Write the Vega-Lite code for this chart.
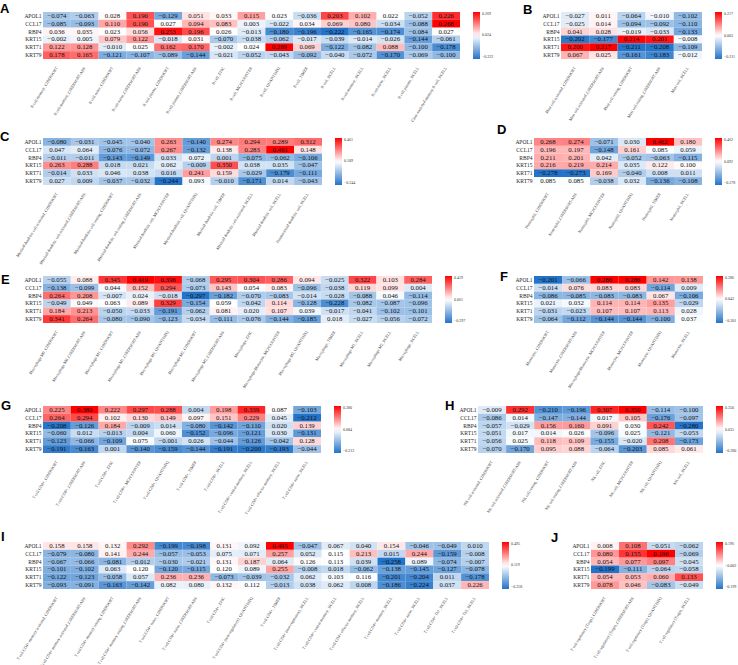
{
"$schema": "https://vega.github.io/schema/vega-lite/v6.json",
"padding": {"left": 0, "top": 2, "right": 0, "bottom": 2},
"background": "white",
"datasets": {
"A": [
{"c":"B cell memory_CIBERSORT","APOL1":-0.074,"CCL17":-0.085,"RBP4":0.036,"KRT15":-0.002,"KRT71":0.122,"KRT79":0.178},
{"c":"B cell memory_CIBERSORT-ABS","APOL1":-0.063,"CCL17":-0.093,"RBP4":0.035,"KRT15":0.005,"KRT71":0.128,"KRT79":0.165},
{"c":"B cell naive_CIBERSORT","APOL1":0.028,"CCL17":0.110,"RBP4":0.023,"KRT15":0.079,"KRT71":-0.010,"KRT79":-0.121},
{"c":"B cell naive_CIBERSORT-ABS","APOL1":0.190,"CCL17":0.190,"RBP4":0.056,"KRT15":0.122,"KRT71":0.025,"KRT79":-0.107},
{"c":"B cell plasma_CIBERSORT","APOL1":-0.129,"CCL17":0.027,"RBP4":0.253,"KRT15":-0.018,"KRT71":0.162,"KRT79":-0.089},
{"c":"B cell plasma_CIBERSORT-ABS","APOL1":0.051,"CCL17":0.094,"RBP4":0.196,"KRT15":0.031,"KRT71":0.170,"KRT79":-0.144},
{"c":"B cell_EPIC","APOL1":0.033,"CCL17":0.083,"RBP4":0.026,"KRT15":-0.070,"KRT71":-0.002,"KRT79":-0.021},
{"c":"B cell_MCPCOUNTER","APOL1":0.115,"CCL17":0.003,"RBP4":-0.013,"KRT15":-0.038,"KRT71":0.024,"KRT79":-0.052},
{"c":"B cell_QUANTISEQ","APOL1":0.023,"CCL17":-0.022,"RBP4":-0.180,"KRT15":-0.062,"KRT71":0.269,"KRT79":-0.043},
{"c":"B cell_TIMER","APOL1":-0.036,"CCL17":0.034,"RBP4":-0.196,"KRT15":-0.017,"KRT71":0.069,"KRT79":-0.092},
{"c":"B cell_XCELL","APOL1":0.203,"CCL17":0.069,"RBP4":-0.222,"KRT15":-0.039,"KRT71":-0.122,"KRT79":-0.040},
{"c":"B cell memory_XCELL","APOL1":0.102,"CCL17":0.080,"RBP4":-0.165,"KRT15":-0.014,"KRT71":-0.082,"KRT79":-0.072},
{"c":"B cell naive_XCELL","APOL1":0.022,"CCL17":-0.034,"RBP4":-0.174,"KRT15":-0.026,"KRT71":0.088,"KRT79":-0.170},
{"c":"B cell plasma_XCELL","APOL1":-0.052,"CCL17":-0.088,"RBP4":-0.084,"KRT15":-0.144,"KRT71":-0.100,"KRT79":-0.069},
{"c":"Class-switched memory B cell_XCELL","APOL1":0.226,"CCL17":0.268,"RBP4":0.027,"KRT15":-0.061,"KRT71":-0.178,"KRT79":-0.100}
],
"B": [
{"c":"Mast cell activated_CIBERSORT","APOL1":-0.027,"CCL17":-0.025,"RBP4":0.041,"KRT15":-0.202,"KRT71":0.200,"KRT79":0.067},
{"c":"Mast cell activated_CIBERSORT-ABS","APOL1":0.011,"CCL17":0.014,"RBP4":0.028,"KRT15":-0.177,"KRT71":0.217,"KRT79":0.025},
{"c":"Mast cell resting_CIBERSORT","APOL1":-0.064,"CCL17":-0.094,"RBP4":-0.019,"KRT15":0.214,"KRT71":-0.211,"KRT79":-0.161},
{"c":"Mast cell resting_CIBERSORT-ABS","APOL1":-0.010,"CCL17":-0.092,"RBP4":-0.033,"KRT15":0.201,"KRT71":-0.208,"KRT79":-0.183},
{"c":"Mast cell_XCELL","APOL1":-0.102,"CCL17":-0.110,"RBP4":-0.133,"KRT15":-0.008,"KRT71":-0.109,"KRT79":-0.012}
],
"C": [
{"c":"Myeloid dendritic cell activated_CIBERSORT","APOL1":-0.080,"CCL17":0.047,"RBP4":-0.011,"KRT15":0.263,"KRT71":-0.014,"KRT79":0.027},
{"c":"Myeloid dendritic cell activated_CIBERSORT-ABS","APOL1":-0.031,"CCL17":0.064,"RBP4":-0.011,"KRT15":0.288,"KRT71":0.033,"KRT79":0.009},
{"c":"Myeloid dendritic cell resting_CIBERSORT","APOL1":-0.045,"CCL17":-0.076,"RBP4":-0.143,"KRT15":0.018,"KRT71":0.046,"KRT79":-0.037},
{"c":"Myeloid dendritic cell resting_CIBERSORT-ABS","APOL1":-0.040,"CCL17":-0.072,"RBP4":-0.149,"KRT15":0.021,"KRT71":0.038,"KRT79":-0.032},
{"c":"Myeloid dendritic cell_MCPCOUNTER","APOL1":0.263,"CCL17":0.267,"RBP4":0.033,"KRT15":0.062,"KRT71":0.016,"KRT79":-0.244},
{"c":"Myeloid dendritic cell_QUANTISEQ","APOL1":-0.140,"CCL17":-0.132,"RBP4":0.072,"KRT15":-0.009,"KRT71":0.241,"KRT79":0.093},
{"c":"Myeloid dendritic cell_TIMER","APOL1":0.274,"CCL17":0.138,"RBP4":0.001,"KRT15":0.350,"KRT71":0.159,"KRT79":-0.010},
{"c":"Myeloid dendritic cell activated_XCELL","APOL1":0.294,"CCL17":0.283,"RBP4":-0.075,"KRT15":0.038,"KRT71":-0.029,"KRT79":-0.171},
{"c":"Myeloid dendritic cell_XCELL","APOL1":0.289,"CCL17":0.461,"RBP4":-0.062,"KRT15":0.035,"KRT71":-0.179,"KRT79":0.014},
{"c":"Plasmacytoid dendritic cell_XCELL","APOL1":0.312,"CCL17":0.148,"RBP4":-0.106,"KRT15":-0.047,"KRT71":-0.111,"KRT79":-0.043}
],
"D": [
{"c":"Neutrophil_CIBERSORT","APOL1":0.268,"CCL17":0.196,"RBP4":0.211,"KRT15":0.216,"KRT71":-0.278,"KRT79":0.085},
{"c":"Neutrophil_CIBERSORT-ABS","APOL1":0.274,"CCL17":0.197,"RBP4":0.201,"KRT15":0.219,"KRT71":-0.273,"KRT79":0.085},
{"c":"Neutrophil_MCPCOUNTER","APOL1":-0.071,"CCL17":-0.148,"RBP4":0.042,"KRT15":0.214,"KRT71":0.169,"KRT79":-0.038},
{"c":"Neutrophil_QUANTISEQ","APOL1":0.030,"CCL17":0.161,"RBP4":-0.052,"KRT15":0.035,"KRT71":-0.040,"KRT79":0.032},
{"c":"Neutrophil_TIMER","APOL1":0.462,"CCL17":0.085,"RBP4":-0.063,"KRT15":0.122,"KRT71":0.008,"KRT79":-0.136},
{"c":"Neutrophil_XCELL","APOL1":0.180,"CCL17":0.059,"RBP4":-0.115,"KRT15":0.100,"KRT71":0.011,"KRT79":-0.108}
],
"E": [
{"c":"Macrophage M0_CIBERSORT","APOL1":-0.055,"CCL17":-0.138,"RBP4":0.264,"KRT15":-0.049,"KRT71":0.184,"KRT79":0.341},
{"c":"Macrophage M0_CIBERSORT-ABS","APOL1":0.088,"CCL17":-0.099,"RBP4":0.208,"KRT15":0.049,"KRT71":0.213,"KRT79":0.264},
{"c":"Macrophage M1_CIBERSORT","APOL1":0.345,"CCL17":0.044,"RBP4":-0.007,"KRT15":0.063,"KRT71":-0.050,"KRT79":-0.080},
{"c":"Macrophage M1_CIBERSORT-ABS","APOL1":0.419,"CCL17":0.152,"RBP4":0.024,"KRT15":0.089,"KRT71":-0.033,"KRT79":-0.090},
{"c":"Macrophage M1_QUANTISEQ","APOL1":0.396,"CCL17":0.294,"RBP4":-0.018,"KRT15":0.329,"KRT71":-0.191,"KRT79":-0.123},
{"c":"Macrophage M2_CIBERSORT","APOL1":-0.068,"CCL17":-0.073,"RBP4":-0.297,"KRT15":-0.154,"KRT71":-0.062,"KRT79":-0.034},
{"c":"Macrophage M2_CIBERSORT-ABS","APOL1":0.295,"CCL17":0.143,"RBP4":-0.182,"KRT15":0.059,"KRT71":0.081,"KRT79":-0.111},
{"c":"Macrophage_EPIC","APOL1":0.304,"CCL17":0.054,"RBP4":-0.070,"KRT15":-0.042,"KRT71":0.020,"KRT79":-0.076},
{"c":"Macrophage/Monocyte_MCPCOUNTER","APOL1":0.286,"CCL17":0.083,"RBP4":-0.083,"KRT15":0.114,"KRT71":0.107,"KRT79":-0.144},
{"c":"Macrophage M2_QUANTISEQ","APOL1":0.094,"CCL17":-0.096,"RBP4":-0.014,"KRT15":-0.128,"KRT71":0.039,"KRT79":-0.185},
{"c":"Macrophage_TIMER","APOL1":-0.025,"CCL17":-0.038,"RBP4":-0.028,"KRT15":-0.228,"KRT71":-0.017,"KRT79":0.018},
{"c":"Macrophage M1_XCELL","APOL1":0.322,"CCL17":0.119,"RBP4":-0.088,"KRT15":-0.082,"KRT71":-0.041,"KRT79":-0.027},
{"c":"Macrophage M2_XCELL","APOL1":0.103,"CCL17":0.099,"RBP4":0.046,"KRT15":-0.087,"KRT71":-0.102,"KRT79":-0.056},
{"c":"Macrophage_XCELL","APOL1":0.284,"CCL17":0.004,"RBP4":-0.114,"KRT15":-0.096,"KRT71":-0.101,"KRT79":-0.072}
],
"F": [
{"c":"Monocyte_CIBERSORT","APOL1":-0.201,"CCL17":-0.014,"RBP4":-0.086,"KRT15":0.021,"KRT71":-0.031,"KRT79":-0.064},
{"c":"Monocyte_CIBERSORT-ABS","APOL1":-0.066,"CCL17":0.076,"RBP4":-0.085,"KRT15":0.032,"KRT71":-0.023,"KRT79":-0.112},
{"c":"Macrophage/Monocyte_MCPCOUNTER","APOL1":0.286,"CCL17":0.083,"RBP4":-0.083,"KRT15":0.114,"KRT71":0.107,"KRT79":-0.144},
{"c":"Monocyte_MCPCOUNTER","APOL1":0.286,"CCL17":0.083,"RBP4":-0.083,"KRT15":0.114,"KRT71":0.107,"KRT79":-0.144},
{"c":"Monocyte_QUANTISEQ","APOL1":0.142,"CCL17":-0.114,"RBP4":0.067,"KRT15":0.135,"KRT71":0.113,"KRT79":-0.100},
{"c":"Monocyte_XCELL","APOL1":0.138,"CCL17":0.009,"RBP4":-0.106,"KRT15":-0.029,"KRT71":0.028,"KRT79":0.037}
],
"G": [
{"c":"T cell CD8+_CIBERSORT","APOL1":0.225,"CCL17":0.264,"RBP4":-0.208,"KRT15":-0.060,"KRT71":-0.123,"KRT79":-0.191},
{"c":"T cell CD8+_CIBERSORT-ABS","APOL1":0.380,"CCL17":0.294,"RBP4":-0.126,"KRT15":0.012,"KRT71":-0.066,"KRT79":-0.163},
{"c":"T cell CD8+_EPIC","APOL1":0.222,"CCL17":0.102,"RBP4":0.184,"KRT15":-0.013,"KRT71":-0.109,"KRT79":0.001},
{"c":"T cell CD8+_MCPCOUNTER","APOL1":0.297,"CCL17":0.130,"RBP4":-0.009,"KRT15":0.004,"KRT71":0.075,"KRT79":-0.140},
{"c":"T cell CD8+_QUANTISEQ","APOL1":0.288,"CCL17":0.149,"RBP4":0.014,"KRT15":0.060,"KRT71":-0.001,"KRT79":-0.159},
{"c":"T cell CD8+_TIMER","APOL1":0.004,"CCL17":0.097,"RBP4":-0.080,"KRT15":-0.152,"KRT71":0.026,"KRT79":-0.144},
{"c":"T cell CD8+_XCELL","APOL1":0.198,"CCL17":0.151,"RBP4":-0.142,"KRT15":-0.096,"KRT71":-0.044,"KRT79":-0.191},
{"c":"T cell CD8+ central memory_XCELL","APOL1":0.339,"CCL17":0.229,"RBP4":-0.110,"KRT15":-0.121,"KRT71":-0.126,"KRT79":-0.200},
{"c":"T cell CD8+ effector memory_XCELL","APOL1":0.087,"CCL17":0.045,"RBP4":0.020,"KRT15":0.030,"KRT71":-0.042,"KRT79":-0.193},
{"c":"T cell CD8+ naive_XCELL","APOL1":-0.103,"CCL17":-0.212,"RBP4":0.139,"KRT15":-0.131,"KRT71":0.128,"KRT79":-0.044}
],
"H": [
{"c":"NK cell activated_CIBERSORT","APOL1":-0.009,"CCL17":-0.086,"RBP4":-0.057,"KRT15":-0.051,"KRT71":-0.056,"KRT79":-0.070},
{"c":"NK cell activated_CIBERSORT-ABS","APOL1":0.292,"CCL17":0.014,"RBP4":-0.029,"KRT15":0.017,"KRT71":0.025,"KRT79":-0.170},
{"c":"NK cell resting_CIBERSORT","APOL1":-0.210,"CCL17":-0.147,"RBP4":0.156,"KRT15":0.014,"KRT71":0.118,"KRT79":0.095},
{"c":"NK cell resting_CIBERSORT-ABS","APOL1":-0.196,"CCL17":-0.144,"RBP4":0.160,"KRT15":0.026,"KRT71":0.109,"KRT79":0.088},
{"c":"NK cell_EPIC","APOL1":0.307,"CCL17":0.017,"RBP4":0.091,"KRT15":-0.096,"KRT71":-0.155,"KRT79":-0.064},
{"c":"NK cell_MCPCOUNTER","APOL1":0.350,"CCL17":0.105,"RBP4":0.030,"KRT15":0.025,"KRT71":-0.020,"KRT79":-0.203},
{"c":"NK cell_QUANTISEQ","APOL1":-0.114,"CCL17":-0.176,"RBP4":0.242,"KRT15":-0.121,"KRT71":0.208,"KRT79":0.085},
{"c":"NK cell_XCELL","APOL1":-0.100,"CCL17":-0.097,"RBP4":-0.280,"KRT15":-0.053,"KRT71":-0.173,"KRT79":0.061}
],
"I": [
{"c":"T cell CD4+ memory activated_CIBERSORT","APOL1":0.158,"CCL17":-0.079,"RBP4":-0.067,"KRT15":-0.101,"KRT71":-0.122,"KRT79":-0.093},
{"c":"T cell CD4+ memory activated_CIBERSORT-ABS","APOL1":0.158,"CCL17":-0.080,"RBP4":-0.066,"KRT15":-0.102,"KRT71":-0.123,"KRT79":-0.091},
{"c":"T cell CD4+ memory resting_CIBERSORT","APOL1":0.132,"CCL17":0.141,"RBP4":-0.081,"KRT15":0.063,"KRT71":-0.058,"KRT79":-0.163},
{"c":"T cell CD4+ memory resting_CIBERSORT-ABS","APOL1":0.292,"CCL17":0.244,"RBP4":-0.012,"KRT15":0.120,"KRT71":0.057,"KRT79":-0.142},
{"c":"T cell CD4+ naive_CIBERSORT","APOL1":-0.199,"CCL17":-0.057,"RBP4":-0.030,"KRT15":-0.120,"KRT71":0.236,"KRT79":0.082},
{"c":"T cell CD4+ naive_CIBERSORT-ABS","APOL1":-0.198,"CCL17":-0.053,"RBP4":-0.021,"KRT15":-0.115,"KRT71":0.236,"KRT79":0.080},
{"c":"T cell CD4+_EPIC","APOL1":0.131,"CCL17":0.075,"RBP4":0.131,"KRT15":0.120,"KRT71":-0.073,"KRT79":0.132},
{"c":"T cell CD4+ (non-regulatory)_QUANTISEQ","APOL1":0.092,"CCL17":0.071,"RBP4":0.187,"KRT15":0.089,"KRT71":-0.039,"KRT79":0.112},
{"c":"T cell CD4+_TIMER","APOL1":0.495,"CCL17":0.257,"RBP4":0.064,"KRT15":0.255,"KRT71":-0.032,"KRT79":-0.013},
{"c":"T cell CD4+ (non-regulatory)_XCELL","APOL1":-0.047,"CCL17":0.052,"RBP4":0.126,"KRT15":-0.008,"KRT71":0.062,"KRT79":0.038},
{"c":"T cell CD4+ central memory_XCELL","APOL1":0.067,"CCL17":0.115,"RBP4":0.113,"KRT15":0.018,"KRT71":0.103,"KRT79":0.062},
{"c":"T cell CD4+ effector memory_XCELL","APOL1":0.040,"CCL17":0.213,"RBP4":0.039,"KRT15":-0.062,"KRT71":0.116,"KRT79":0.008},
{"c":"T cell CD4+ memory_XCELL","APOL1":0.154,"CCL17":0.015,"RBP4":-0.258,"KRT15":-0.138,"KRT71":-0.201,"KRT79":-0.186},
{"c":"T cell CD4+ naive_XCELL","APOL1":-0.046,"CCL17":0.244,"RBP4":0.089,"KRT15":-0.145,"KRT71":-0.204,"KRT79":-0.224},
{"c":"T cell CD4+ Th1_XCELL","APOL1":-0.049,"CCL17":-0.159,"RBP4":-0.074,"KRT15":-0.127,"KRT71":0.011,"KRT79":0.037},
{"c":"T cell CD4+ Th2_XCELL","APOL1":0.010,"CCL17":-0.008,"RBP4":-0.007,"KRT15":-0.078,"KRT71":-0.178,"KRT79":0.226}
],
"J": [
{"c":"T cell regulatory (Tregs)_CIBERSORT","APOL1":0.008,"CCL17":0.080,"RBP4":0.054,"KRT15":-0.199,"KRT71":0.054,"KRT79":0.078},
{"c":"T cell regulatory (Tregs)_CIBERSORT-ABS","APOL1":0.108,"CCL17":0.155,"RBP4":0.077,"KRT15":-0.111,"KRT71":0.053,"KRT79":0.046},
{"c":"T cell regulatory (Tregs)_QUANTISEQ","APOL1":-0.051,"CCL17":0.196,"RBP4":0.097,"KRT15":-0.064,"KRT71":0.060,"KRT79":-0.083},
{"c":"T cell regulatory (Tregs)_XCELL","APOL1":-0.062,"CCL17":-0.069,"RBP4":-0.045,"KRT15":-0.058,"KRT71":0.133,"KRT79":-0.049}
]
},
"bounds": "flush",
"spacing": 126,
"resolve": {"scale": {"color": "independent"}},
"vconcat": [
{"hconcat": [
{"title": {"text": "A", "dx": -43, "dy": 7.5}, "data": {"name": "A"}, "width": 417, "height": 47,
 "transform": [{"fold": ["APOL1","CCL17","RBP4","KRT15","KRT71","KRT79"], "as": ["g","v"]}],
 "encoding": {"x": {"field": "c", "type": "nominal", "sort": null, "title": null}, "y": {"field": "g", "type": "nominal", "sort": ["APOL1","CCL17","RBP4","KRT15","KRT71","KRT79"], "title": null}},
 "layer": [
  {"mark": "rect", "encoding": {"color": {"field": "v", "type": "quantitative", "title": null, "scale": {"domain": [-0.222, 0.024, 0.269], "range": ["#2373C8", "#FFFFFF", "#FF0000"], "interpolate": "rgb"}, "legend": {"values": [-0.222, 0.024, 0.269], "format": ".3f", "gradientLength": 47}}}},
  {"mark": "text", "encoding": {"text": {"field": "v", "type": "quantitative", "format": ".3f"}}}
 ]},
{"title": {"text": "B", "dx": -38, "dy": 9}, "data": {"name": "B"}, "width": 141, "height": 47,
 "transform": [{"fold": ["APOL1","CCL17","RBP4","KRT15","KRT71","KRT79"], "as": ["g","v"]}],
 "encoding": {"x": {"field": "c", "type": "nominal", "sort": null, "title": null}, "y": {"field": "g", "type": "nominal", "sort": ["APOL1","CCL17","RBP4","KRT15","KRT71","KRT79"], "title": null}},
 "layer": [
  {"mark": "rect", "encoding": {"color": {"field": "v", "type": "quantitative", "title": null, "scale": {"domain": [-0.211, 0.003, 0.217], "range": ["#2373C8", "#FFFFFF", "#FF0000"], "interpolate": "rgb"}, "legend": {"values": [-0.211, 0.003, 0.217], "format": ".3f", "gradientLength": 47}}}},
  {"mark": "text", "encoding": {"text": {"field": "v", "type": "quantitative", "format": ".3f"}}}
 ]}
], "spacing": 101, "bounds": "flush", "resolve": {"scale": {"color": "independent"}}},
{"bounds": "flush", "spacing": 138, "resolve": {"scale": {"color": "independent"}}, "vconcat": [
{"hconcat": [
{"title": {"text": "C", "dx": -43, "dy": 9.5}, "data": {"name": "C"}, "width": 279, "height": 47,
 "transform": [{"fold": ["APOL1","CCL17","RBP4","KRT15","KRT71","KRT79"], "as": ["g","v"]}],
 "encoding": {"x": {"field": "c", "type": "nominal", "sort": null, "title": null}, "y": {"field": "g", "type": "nominal", "sort": ["APOL1","CCL17","RBP4","KRT15","KRT71","KRT79"], "title": null}},
 "layer": [
  {"mark": "rect", "encoding": {"color": {"field": "v", "type": "quantitative", "title": null, "scale": {"domain": [-0.244, 0.109, 0.461], "range": ["#2373C8", "#FFFFFF", "#FF0000"], "interpolate": "rgb"}, "legend": {"values": [-0.244, 0.109, 0.461], "format": ".3f", "gradientLength": 47}}}},
  {"mark": "text", "encoding": {"text": {"field": "v", "type": "quantitative", "format": ".3f"}}}
 ]},
{"title": {"text": "D", "dx": -37, "dy": 2.5}, "data": {"name": "D"}, "width": 168, "height": 47,
 "transform": [{"fold": ["APOL1","CCL17","RBP4","KRT15","KRT71","KRT79"], "as": ["g","v"]}],
 "encoding": {"x": {"field": "c", "type": "nominal", "sort": null, "title": null}, "y": {"field": "g", "type": "nominal", "sort": ["APOL1","CCL17","RBP4","KRT15","KRT71","KRT79"], "title": null}},
 "layer": [
  {"mark": "rect", "encoding": {"color": {"field": "v", "type": "quantitative", "title": null, "scale": {"domain": [-0.278, 0.092, 0.462], "range": ["#2373C8", "#FFFFFF", "#FF0000"], "interpolate": "rgb"}, "legend": {"values": [-0.278, 0.092, 0.462], "format": ".3f", "gradientLength": 47}}}},
  {"mark": "text", "encoding": {"text": {"field": "v", "type": "quantitative", "format": ".3f"}}}
 ]}
], "spacing": 212, "bounds": "flush", "resolve": {"scale": {"color": "independent"}}},
{"bounds": "flush", "spacing": 130, "resolve": {"scale": {"color": "independent"}}, "vconcat": [
{"hconcat": [
{"title": {"text": "E", "dx": -42, "dy": 14.5}, "data": {"name": "E"}, "width": 389, "height": 47,
 "transform": [{"fold": ["APOL1","CCL17","RBP4","KRT15","KRT71","KRT79"], "as": ["g","v"]}],
 "encoding": {"x": {"field": "c", "type": "nominal", "sort": null, "title": null}, "y": {"field": "g", "type": "nominal", "sort": ["APOL1","CCL17","RBP4","KRT15","KRT71","KRT79"], "title": null}},
 "layer": [
  {"mark": "rect", "encoding": {"color": {"field": "v", "type": "quantitative", "title": null, "scale": {"domain": [-0.297, 0.061, 0.419], "range": ["#2373C8", "#FFFFFF", "#FF0000"], "interpolate": "rgb"}, "legend": {"values": [-0.297, 0.061, 0.419], "format": ".3f", "gradientLength": 47}}}},
  {"mark": "text", "encoding": {"text": {"field": "v", "type": "quantitative", "format": ".3f"}}}
 ]},
{"title": {"text": "F", "dx": -34, "dy": 11.5}, "data": {"name": "F"}, "width": 169, "height": 47,
 "transform": [{"fold": ["APOL1","CCL17","RBP4","KRT15","KRT71","KRT79"], "as": ["g","v"]}],
 "encoding": {"x": {"field": "c", "type": "nominal", "sort": null, "title": null}, "y": {"field": "g", "type": "nominal", "sort": ["APOL1","CCL17","RBP4","KRT15","KRT71","KRT79"], "title": null}},
 "layer": [
  {"mark": "rect", "encoding": {"color": {"field": "v", "type": "quantitative", "title": null, "scale": {"domain": [-0.201, 0.043, 0.286], "range": ["#2373C8", "#FFFFFF", "#FF0000"], "interpolate": "rgb"}, "legend": {"values": [-0.201, 0.043, 0.286], "format": ".3f", "gradientLength": 47}}}},
  {"mark": "text", "encoding": {"text": {"field": "v", "type": "quantitative", "format": ".3f"}}}
 ]}
], "spacing": 102, "bounds": "flush", "resolve": {"scale": {"color": "independent"}}},
{"bounds": "flush", "spacing": 136, "resolve": {"scale": {"color": "independent"}}, "vconcat": [
{"hconcat": [
{"title": {"text": "G", "dx": -42, "dy": 10.5}, "data": {"name": "G"}, "width": 278, "height": 47,
 "transform": [{"fold": ["APOL1","CCL17","RBP4","KRT15","KRT71","KRT79"], "as": ["g","v"]}],
 "encoding": {"x": {"field": "c", "type": "nominal", "sort": null, "title": null}, "y": {"field": "g", "type": "nominal", "sort": ["APOL1","CCL17","RBP4","KRT15","KRT71","KRT79"], "title": null}},
 "layer": [
  {"mark": "rect", "encoding": {"color": {"field": "v", "type": "quantitative", "title": null, "scale": {"domain": [-0.212, 0.084, 0.380], "range": ["#2373C8", "#FFFFFF", "#FF0000"], "interpolate": "rgb"}, "legend": {"values": [-0.212, 0.084, 0.380], "format": ".3f", "gradientLength": 47}}}},
  {"mark": "text", "encoding": {"text": {"field": "v", "type": "quantitative", "format": ".3f"}}}
 ]},
{"title": {"text": "H", "dx": -33, "dy": 10.5}, "data": {"name": "H"}, "width": 225, "height": 47,
 "transform": [{"fold": ["APOL1","CCL17","RBP4","KRT15","KRT71","KRT79"], "as": ["g","v"]}],
 "encoding": {"x": {"field": "c", "type": "nominal", "sort": null, "title": null}, "y": {"field": "g", "type": "nominal", "sort": ["APOL1","CCL17","RBP4","KRT15","KRT71","KRT79"], "title": null}},
 "layer": [
  {"mark": "rect", "encoding": {"color": {"field": "v", "type": "quantitative", "title": null, "scale": {"domain": [-0.280, 0.035, 0.350], "range": ["#2373C8", "#FFFFFF", "#FF0000"], "interpolate": "rgb"}, "legend": {"values": [-0.280, 0.035, 0.350], "format": ".3f", "gradientLength": 47}}}},
  {"mark": "text", "encoding": {"text": {"field": "v", "type": "quantitative", "format": ".3f"}}}
 ]}
], "spacing": 157, "bounds": "flush", "resolve": {"scale": {"color": "independent"}}},
{"hconcat": [
{"title": {"text": "I", "dx": -42, "dy": 5.5}, "data": {"name": "I"}, "width": 446, "height": 47,
 "transform": [{"fold": ["APOL1","CCL17","RBP4","KRT15","KRT71","KRT79"], "as": ["g","v"]}],
 "encoding": {"x": {"field": "c", "type": "nominal", "sort": null, "title": null}, "y": {"field": "g", "type": "nominal", "sort": ["APOL1","CCL17","RBP4","KRT15","KRT71","KRT79"], "title": null}},
 "layer": [
  {"mark": "rect", "encoding": {"color": {"field": "v", "type": "quantitative", "title": null, "scale": {"domain": [-0.258, 0.119, 0.495], "range": ["#2373C8", "#FFFFFF", "#FF0000"], "interpolate": "rgb"}, "legend": {"values": [-0.258, 0.119, 0.495], "format": ".3f", "gradientLength": 47}}}},
  {"mark": "text", "encoding": {"text": {"field": "v", "type": "quantitative", "format": ".3f"}}}
 ]},
{"title": {"text": "J", "dx": -40, "dy": 6.5}, "data": {"name": "J"}, "width": 112, "height": 47,
 "transform": [{"fold": ["APOL1","CCL17","RBP4","KRT15","KRT71","KRT79"], "as": ["g","v"]}],
 "encoding": {"x": {"field": "c", "type": "nominal", "sort": null, "title": null}, "y": {"field": "g", "type": "nominal", "sort": ["APOL1","CCL17","RBP4","KRT15","KRT71","KRT79"], "title": null}},
 "layer": [
  {"mark": "rect", "encoding": {"color": {"field": "v", "type": "quantitative", "title": null, "scale": {"domain": [-0.199, -0.002, 0.196], "range": ["#2373C8", "#FFFFFF", "#FF0000"], "interpolate": "rgb"}, "legend": {"values": [-0.199, -0.002, 0.196], "format": ".3f", "gradientLength": 47}}}},
  {"mark": "text", "encoding": {"text": {"field": "v", "type": "quantitative", "format": ".3f"}}}
 ]}
], "spacing": 102, "bounds": "flush", "resolve": {"scale": {"color": "independent"}}}
]}
]}
]}
],
"config": {
 "view": {"stroke": null},
 "font": "Liberation Serif",
 "axisX": {"labelAngle": -58, "labelFontSize": 4, "labelFont": "Liberation Serif", "labelColor": "#333333", "ticks": false, "tickSize": 0, "domain": false, "labelPadding": 8, "labelOverlap": false, "labelLimit": 300},
 "axisY": {"labelFontSize": 5.5, "labelFont": "Liberation Serif", "labelColor": "#222222", "ticks": false, "tickSize": 0, "domain": false, "labelPadding": 2},
 "legend": {"offset": 13, "padding": 0, "gradientLength": 47, "gradientThickness": 7, "labelFontSize": 4, "labelFont": "Liberation Serif", "labelOffset": 4, "gradientStrokeWidth": 0, "labelOverlap": false, "labelColor": "#333333"},
 "text": {"fontSize": 6.8, "font": "Liberation Serif", "color": "#111111"},
 "title": {"fontSize": 13, "font": "Liberation Sans", "fontWeight": "bold", "anchor": "start", "frame": "group", "orient": "top", "baseline": "top", "offset": 0, "color": "#000000"}
}
}
